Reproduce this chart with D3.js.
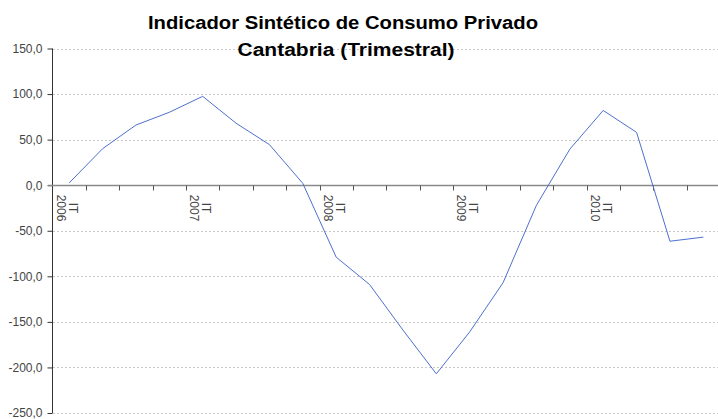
<!DOCTYPE html>
<html lang="es">
<head>
<meta charset="utf-8">
<title>Indicador Sintético de Consumo Privado</title>
<script src="https://d3js.org/d3.v7.min.js"></script>
<style>
  body { margin: 0; background: #fff; }
  svg { display: block; }
  .tick-label { font-family: "Liberation Sans", Arial, sans-serif; font-size: 12px; fill: #444; }
  .title { font-family: "Liberation Sans", Arial, sans-serif; font-weight: bold; font-size: 18px; fill: #000; }
</style>
</head>
<body>
<div id="chart"></div>
<script>
// data
var years = [2006, 2007, 2008, 2009, 2010];
var quarters = ["IT", "IIT", "IIIT", "IVT"];
var values = [2.5, 40, 66, 80, 97.5, 68, 44.5, 2,
              -79, -109, -159, -207, -161, -107, -22, 39.5,
              82, 58, -61.5, -57];
var yTicks = [150, 100, 50, 0, -50, -100, -150, -200, -250];

var categories = [];
years.forEach(function (y) {
  quarters.forEach(function (q) { categories.push(q + " " + y); });
});

var w = 718, h = 419;
var svg = d3.select("#chart").append("svg")
  .attr("width", w)
  .attr("height", h);

var x = d3.scaleBand()
  .domain(categories)
  .range([52.5, 720]);

var y = d3.scaleLinear()
  .domain([-250, 150])
  .range([413, 48.5]);

var fmt = function (d) { return d3.format(".1f")(d).replace(".", ",").replace("−", "-"); };

// gridlines
svg.append("g")
  .selectAll("line")
  .data(yTicks.filter(function (d) { return d !== 0; }))
  .enter().append("line")
  .attr("x1", 53)
  .attr("x2", w)
  .attr("y1", function (d) { return Math.round(y(d)) + 0.5; })
  .attr("y2", function (d) { return Math.round(y(d)) + 0.5; })
  .attr("stroke", "#c8c8c8")
  .attr("stroke-dasharray", "2,2");

// y axis
var yAxis = svg.append("g")
  .attr("transform", "translate(52.5,0)")
  .call(d3.axisLeft(y).tickValues(yTicks).tickSize(5).tickPadding(5).tickFormat(fmt));
yAxis.select(".domain").attr("stroke", "#333").attr("d", "M0," + y(150) + "V" + y(-250));
yAxis.selectAll(".tick line").attr("stroke", "#333");
yAxis.selectAll(".tick text")
  .attr("class", "tick-label")
  .attr("font-family", null)
  .attr("font-size", null)
  .attr("fill", null);

// x axis at zero
var y0 = Math.round(y(0)) + 0.5;
var xAxis = svg.append("g")
  .attr("transform", "translate(0," + y0 + ")");
xAxis.append("line")
  .attr("x1", 48)
  .attr("x2", w)
  .attr("stroke", "#8a8a8a")
  .attr("stroke-width", 1.5);
xAxis.selectAll(".xt")
  .data(categories.slice(1))
  .enter().append("line")
  .attr("class", "xt")
  .attr("x1", function (d) { return Math.round(x(d)) + 0.5; })
  .attr("x2", function (d) { return Math.round(x(d)) + 0.5; })
  .attr("y1", 0)
  .attr("y2", 5)
  .attr("stroke", "#555");

// x labels (only first quarter of each year), rotated
categories.forEach(function (c, i) {
  if (i % 4 !== 0) return;
  var parts = c.split(" ");
  var t = svg.append("text")
    .attr("class", "tick-label")
    .attr("text-anchor", "middle")
    .attr("transform", "translate(" + (x(c) + 16) + ",208) rotate(90)");
  t.append("tspan").attr("x", 0).attr("dy", 0).text(parts[0]);
  t.append("tspan").attr("x", 0).attr("dy", 12).text(parts[1]);
});

// line
var line = d3.line()
  .x(function (d, i) { return x(categories[i]) + x.bandwidth() / 2; })
  .y(function (d) { return y(d); });

svg.append("path")
  .datum(values)
  .attr("fill", "none")
  .attr("stroke", "#4f6fcf")
  .attr("stroke-width", 1)
  .attr("d", line);

// title
svg.append("text")
  .attr("class", "title")
  .attr("x", 343)
  .attr("y", 29)
  .attr("text-anchor", "middle")
  .attr("textLength", 390)
  .attr("lengthAdjust", "spacingAndGlyphs")
  .text("Indicador Sintético de Consumo Privado");
svg.append("text")
  .attr("class", "title")
  .attr("x", 346)
  .attr("y", 56)
  .attr("text-anchor", "middle")
  .attr("textLength", 217)
  .attr("lengthAdjust", "spacingAndGlyphs")
  .text("Cantabria (Trimestral)");
</script>
</body>
</html>
